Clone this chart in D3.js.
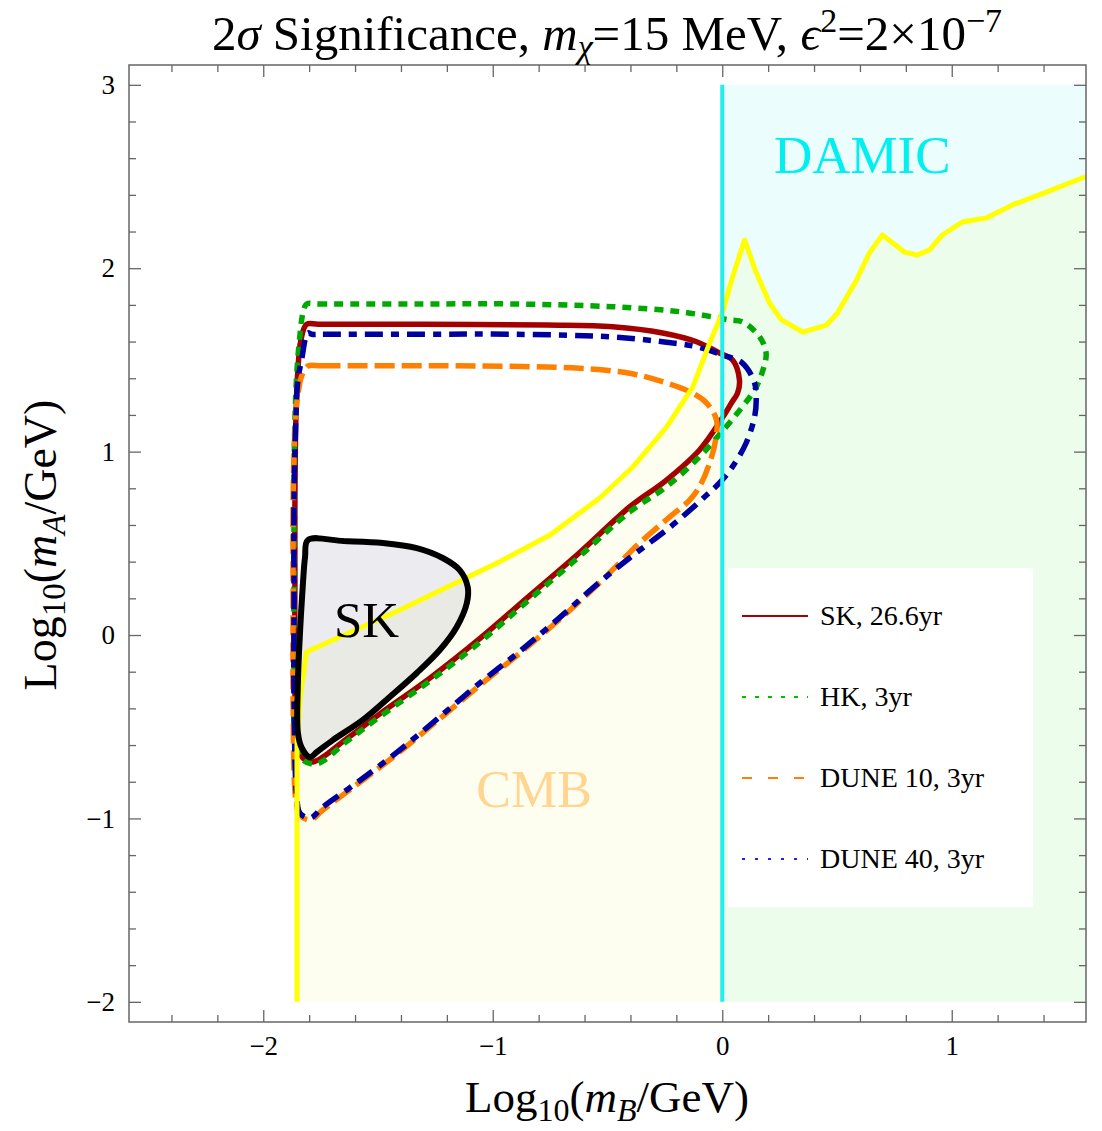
<!DOCTYPE html>
<html>
<head>
<meta charset="utf-8">
<script src="https://cdn.jsdelivr.net/npm/d3@7"></script>
<style>
  body { margin: 0; background: #fff; }
  text { font-family: "Liberation Serif", "Times New Roman", serif; }
</style>
</head>
<body>
<script>
// [log10(mB/GeV), log10(mA/GeV)]
var cmbBound = [[-1.853,-2.0],[-1.853,-0.6],[-1.84,-0.35],[-1.812,-0.093],[-1.405,0.136],[-0.97,0.40],
  [-0.751,0.545],[-0.534,0.747],[-0.39,0.916],[-0.243,1.134],[-0.129,1.352],[-0.055,1.592],[0.0,1.756],
  [0.045,1.952],[0.097,2.154],[0.149,1.974],[0.206,1.81],[0.258,1.718],[0.35,1.652],[0.454,1.69],
  [0.502,1.756],[0.585,1.936],[0.641,2.083],[0.698,2.181],[0.794,2.088],[0.85,2.072],[0.902,2.099],
  [0.959,2.181],[1.046,2.252],[1.15,2.274],[1.264,2.345],[1.412,2.415],[1.585,2.50]];

var skNow = [[-1.805,0.518],[-1.65,0.512],[-1.479,0.502],[-1.331,0.474],[-1.218,0.42],[-1.144,0.354],
  [-1.109,0.262],[-1.113,0.174],[-1.157,0.044],[-1.231,-0.082],[-1.331,-0.207],[-1.449,-0.338],
  [-1.566,-0.463],[-1.697,-0.573],[-1.766,-0.638],[-1.797,-0.665],[-1.832,-0.616],[-1.849,-0.534],
  [-1.849,-0.262],[-1.84,0.011],[-1.827,0.284],[-1.818,0.425]];

var sk266 = [[-1.811,1.694],[-1.76,1.695],[-1.3,1.694],[-0.766,1.69],[-0.478,1.681],[-0.26,1.647],
  [-0.112,1.599],[-0.012,1.538],[0.045,1.499],[0.075,1.39],[0.067,1.32],[0.04,1.265],[0.0,1.183],
  [-0.099,1.009],[-0.243,0.845],[-0.404,0.698],[-0.621,0.45],[-0.839,0.215],[-1.057,-0.02],
  [-1.274,-0.235],[-1.492,-0.43],[-1.636,-0.565],[-1.783,-0.692],[-1.827,-0.671],[-1.853,-0.573],
  [-1.862,-0.082],[-1.862,0.33],[-1.862,0.736],[-1.858,1.172],[-1.849,1.445],[-1.836,1.608]];

var hk3 = [[-1.811,1.805],[-1.76,1.805],[-1.3,1.805],[-0.913,1.805],[-0.478,1.79],[-0.186,1.763],
  [0.032,1.718],[0.088,1.708],[0.162,1.627],[0.191,1.538],[0.175,1.436],[0.141,1.336],[0.088,1.245],
  [0.017,1.136],[-0.099,0.972],[-0.243,0.809],[-0.404,0.671],[-0.621,0.43],[-0.839,0.195],
  [-1.057,-0.04],[-1.274,-0.25],[-1.492,-0.445],[-1.636,-0.58],[-1.768,-0.703],[-1.827,-0.682],
  [-1.857,-0.6],[-1.866,-0.082],[-1.866,0.33],[-1.866,0.736],[-1.862,1.172],[-1.853,1.445],
  [-1.84,1.636],[-1.827,1.756]];

var dune10 = [[-1.805,1.467],[-1.75,1.468],[-1.4,1.468],[-1.057,1.467],[-0.621,1.454],[-0.404,1.427],
  [-0.26,1.381],[-0.142,1.327],[-0.068,1.265],[-0.025,1.172],[-0.029,1.063],[-0.055,0.938],
  [-0.099,0.809],[-0.142,0.736],[-0.23,0.643],[-0.36,0.502],[-0.434,0.41],[-0.547,0.27],
  [-0.695,0.1],[-0.883,-0.1],[-1.057,-0.275],[-1.244,-0.47],[-1.418,-0.65],[-1.592,-0.815],
  [-1.74,-0.954],[-1.796,-1.009],[-1.84,-0.981],[-1.858,-0.9],[-1.87,-0.354],[-1.87,0.2],
  [-1.87,0.736],[-1.862,1.118],[-1.849,1.309],[-1.831,1.418]];

var dune40 = [[-1.789,1.64],[-1.74,1.64],[-1.3,1.64],[-0.913,1.64],[-0.478,1.625],[-0.26,1.599],
  [-0.112,1.572],[0.001,1.527],[0.088,1.483],[0.141,1.374],[0.148,1.281],[0.141,1.19],[0.104,1.047],
  [0.045,0.918],[-0.012,0.829],[-0.068,0.763],[-0.216,0.6],[-0.404,0.42],[-0.547,0.275],
  [-0.695,0.11],[-0.883,-0.09],[-1.057,-0.262],[-1.244,-0.46],[-1.418,-0.64],[-1.592,-0.805],
  [-1.74,-0.938],[-1.796,-0.998],[-1.84,-0.971],[-1.853,-0.9],[-1.866,-0.354],[-1.866,0.2],
  [-1.866,0.736],[-1.858,1.172],[-1.849,1.39],[-1.833,1.5],[-1.806,1.647]];

var legendNames = ["SK, 26.6yr", "HK, 3yr", "DUNE 10, 3yr", "DUNE 40, 3yr"];
var xMajor = [-2, -1, 0, 1];
var yMajor = [-2, -1, 0, 1, 2, 3];

var W = 1102, H = 1131;
var x = d3.scaleLinear().domain([-2.585, 1.585]).range([129, 1086]);
var y = d3.scaleLinear().domain([-2.11, 3.108]).range([1022, 65]);

var svg = d3.select("body").append("svg").attr("width", W).attr("height", H);

var line = d3.line().x(function(d){ return x(d[0]); }).y(function(d){ return y(d[1]); });
var ring = d3.line().x(function(d){ return x(d[0]); }).y(function(d){ return y(d[1]); })
  .curve(d3.curveCatmullRomClosed.alpha(0.5));

// split the yellow bound at mB = 1 GeV
var leftPart = cmbBound.filter(function(d){ return d[0] <= 0; });
var rightPart = cmbBound.filter(function(d){ return d[0] >= 0; });
var yBot = -2, yTop = 3, xEnd = cmbBound[cmbBound.length - 1][0];

// fills
svg.append("path")
  .attr("d", line(leftPart.concat([[0, yBot], [leftPart[0][0], yBot]])) + "Z")
  .attr("fill", "#fefef0");
svg.append("path")
  .attr("d", line(rightPart.concat([[xEnd, yBot], [0, yBot]])) + "Z")
  .attr("fill", "#edfdec");
svg.append("path")
  .attr("d", line(rightPart.concat([[xEnd, yTop], [0, yTop]])) + "Z")
  .attr("fill", "#ebfdfd");

// SK present-day region fill
svg.append("path").attr("d", ring(skNow))
  .attr("fill", "#b8b8c8").attr("fill-opacity", 0.28);

// projected sensitivities
var curves = [
  {data: sk266, color: "#a50000", dash: null, leg: null},
  {data: hk3, color: "#00a800", dash: "9,7", leg: "4,9"},
  {data: dune10, color: "#ff8000", dash: "20,7", leg: "10,16"},
  {data: dune40, color: "#0000a0", dash: "18,8,8,8", leg: "3,10"}
];
var legendColors = ["#a50000", "#00c000", "#ff8000", "#2020ff"];

curves.forEach(function(c){
  svg.append("path").attr("d", ring(c.data))
    .attr("fill", "none")
    .attr("stroke", c.color)
    .attr("stroke-width", 5.5)
    .attr("stroke-dasharray", c.dash);
});

// yellow bound
svg.append("path").attr("d", line(cmbBound))
  .attr("fill", "none").attr("stroke", "#ffff00").attr("stroke-width", 5)
  .attr("stroke-linejoin", "round");

// DAMIC edge
svg.append("line")
  .attr("x1", x(0)).attr("x2", x(0)).attr("y1", y(yTop)).attr("y2", y(yBot))
  .attr("stroke", "#22eeee").attr("stroke-width", 4);

// SK outline
svg.append("path").attr("d", ring(skNow))
  .attr("fill", "none").attr("stroke", "#000").attr("stroke-width", 6)
  .attr("stroke-linejoin", "round");

// region labels
svg.append("text").attr("x", x(0.61)).attr("y", y(2.52)).attr("text-anchor", "middle")
  .attr("font-size", 53).attr("fill", "#00f0f0").text("DAMIC");
svg.append("text").attr("x", x(-0.82)).attr("y", y(-0.94)).attr("text-anchor", "middle")
  .attr("font-size", 52).attr("fill", "#ffd590").text("CMB");
svg.append("text").attr("x", x(-1.55)).attr("y", y(-0.01)).attr("text-anchor", "middle")
  .attr("font-size", 51).attr("fill", "#000").text("SK");

// axes with major and minor ticks on all sides
function minorVals(sc) {
  var d = sc.domain(), out = [];
  for (var v = Math.ceil(d[0] * 5) / 5; v <= d[1] + 1e-9; v += 0.2) {
    var r = Math.round(v * 10) / 10;
    if (Math.abs(r - Math.round(r)) > 1e-6) out.push(r);
  }
  return out;
}
var fmt = function(d){ return d < 0 ? "\u2212" + Math.abs(d) : String(d); };
var axisCol = "#666";

function drawAxis(gen, tr, vals, size, labels) {
  var g = svg.append("g").attr("transform", tr)
    .call(gen.tickValues(vals).tickSize(-size).tickPadding(14)
      .tickFormat(labels ? fmt : ""));
  g.select(".domain").remove();
  g.selectAll("line").attr("stroke", axisCol).attr("stroke-width", 1.3);
  g.selectAll("text").attr("font-size", 27).attr("fill", "#000")
    .style("font-family", "Liberation Serif, serif");
  return g;
}
drawAxis(d3.axisBottom(x), "translate(0,1022)", xMajor, 12, true);
drawAxis(d3.axisBottom(x), "translate(0,1022)", minorVals(x), 7, false);
drawAxis(d3.axisTop(x), "translate(0,65)", xMajor, 12, false);
drawAxis(d3.axisTop(x), "translate(0,65)", minorVals(x), 7, false);
drawAxis(d3.axisLeft(y), "translate(129,0)", yMajor, 12, true);
drawAxis(d3.axisLeft(y), "translate(129,0)", minorVals(y), 7, false);
drawAxis(d3.axisRight(y), "translate(1086,0)", yMajor, 12, false);
drawAxis(d3.axisRight(y), "translate(1086,0)", minorVals(y), 7, false);

svg.append("rect").attr("x", 129).attr("y", 65).attr("width", 1086 - 129).attr("height", 1022 - 65)
  .attr("fill", "none").attr("stroke", axisCol).attr("stroke-width", 1.5);

// legend
var lg = svg.append("g").attr("transform", "translate(728,568)");
lg.append("rect").attr("width", 305).attr("height", 339).attr("fill", "#fff");
legendNames.forEach(function(name, i){
  var yy = 48 + i * 81;
  lg.append("line").attr("x1", 14).attr("x2", 80).attr("y1", yy).attr("y2", yy)
    .attr("stroke", legendColors[i]).attr("stroke-width", 2)
    .attr("stroke-dasharray", curves[i].leg);
  lg.append("text").attr("x", 92).attr("y", yy + 9).attr("font-size", 28).text(name);
});

// title and axis labels
var title = svg.append("text").attr("x", 607).attr("y", 50).attr("text-anchor", "middle")
  .attr("font-size", 49);
title.append("tspan").text("2");
title.append("tspan").attr("font-style", "italic").text("\u03c3");
title.append("tspan").text(" Significance, ");
title.append("tspan").attr("font-style", "italic").text("m");
title.append("tspan").attr("font-style", "italic").attr("font-size", 34).attr("dy", 8).text("\u03c7");
title.append("tspan").attr("dy", -8).text("=15 MeV, ");
title.append("tspan").attr("font-style", "italic").text("\u03f5");
title.append("tspan").attr("font-size", 34).attr("dy", -18).text("2");
title.append("tspan").attr("dy", 18).text("=2\u00d710");
title.append("tspan").attr("font-size", 34).attr("dy", -18).text("\u22127");

var xl = svg.append("text").attr("x", 607).attr("y", 1112).attr("text-anchor", "middle")
  .attr("font-size", 45);
xl.append("tspan").text("Log");
xl.append("tspan").attr("font-size", 32).attr("dy", 9).text("10");
xl.append("tspan").attr("dy", -9).text("(");
xl.append("tspan").attr("font-style", "italic").text("m");
xl.append("tspan").attr("font-style", "italic").attr("font-size", 32).attr("dy", 9).text("B");
xl.append("tspan").attr("dy", -9).text("/GeV)");

var yl = svg.append("text").attr("transform", "translate(56,545) rotate(-90)")
  .attr("text-anchor", "middle").attr("font-size", 46);
yl.append("tspan").text("Log");
yl.append("tspan").attr("font-size", 33).attr("dy", 9).text("10");
yl.append("tspan").attr("dy", -9).text("(");
yl.append("tspan").attr("font-style", "italic").text("m");
yl.append("tspan").attr("font-style", "italic").attr("font-size", 33).attr("dy", 9).text("A");
yl.append("tspan").attr("dy", -9).text("/GeV)");
</script>
</body>
</html>
